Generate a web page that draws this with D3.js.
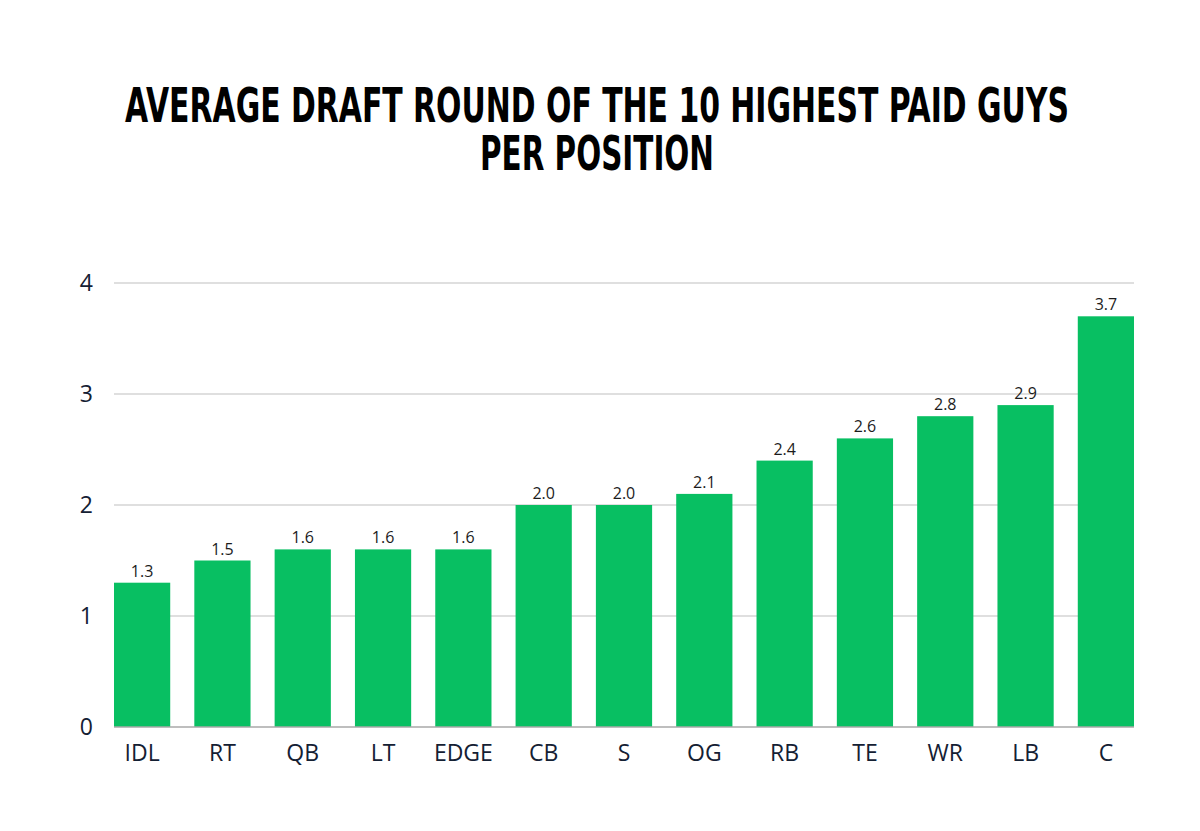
<!DOCTYPE html>
<html>
<head>
<meta charset="utf-8">
<script src="https://cdn.jsdelivr.net/npm/d3@7"></script>
<style>
  html, body { margin: 0; padding: 0; background: #fff; }
  #chart { width: 1200px; height: 831px; }
</style>
</head>
<body>
<div id="chart"></div>
<script>
// Average draft round of the 10 highest paid players per position
const positions = ['IDL', 'RT', 'QB', 'LT', 'EDGE', 'CB', 'S', 'OG', 'RB', 'TE', 'WR', 'LB', 'C'];
const avgRound = [1.3, 1.5, 1.6, 1.6, 1.6, 2.0, 2.0, 2.1, 2.4, 2.6, 2.8, 2.9, 3.7];
const yTicks = [0, 1, 2, 3, 4];
const titleLines = ['AVERAGE DRAFT ROUND OF THE 10 HIGHEST PAID GUYS', 'PER POSITION'];

(function () {
  const w = 1200, h = 831;
  const margin = { top: 283, right: 66, bottom: 104, left: 114 };

  const palette = {
    bar: '#08bf62',
    grid: '#d4d4d4',
    base: '#a9a9a9',
    tick: '#142033',
    value: '#1c1c1c',
    title: '#000'
  };

  const data = positions.map((p, i) => ({ pos: p, v: avgRound[i] }));

  const svg = d3.select('#chart')
    .append('svg')
    .attr('width', w)
    .attr('height', h);

  // Title: sized so each line matches its width, then stretched vertically
  // to get the tall condensed look of the original poster font.
  const titleWidths = [944, 234];
  const capHeight = 35;
  const title = svg.append('g');
  titleLines.forEach((line, i) => {
    const t = title.append('text')
      .attr('text-anchor', 'middle')
      .attr('font-family', '"DejaVu Sans Condensed", "DejaVu Sans", sans-serif')
      .attr('font-weight', 700)
      .attr('font-size', 40)
      .attr('fill', palette.title)
      .text(line);
    const natural = t.node().getComputedTextLength();
    const fs = 40 * titleWidths[i] / natural;
    const sy = capHeight / (fs * 0.73);
    t.attr('font-size', fs)
      .attr('transform', `translate(597,${122 + i * 48}) scale(1,${sy})`);
  });

  const x = d3.scaleBand()
    .domain(positions)
    .range([margin.left, w - margin.right])
    .paddingInner(0.3)
    .paddingOuter(0);

  const y = d3.scaleLinear()
    .domain([0, 4])
    .range([h - margin.bottom, margin.top]);

  // Gridlines
  svg.append('g')
    .selectAll('line')
    .data(yTicks.filter(t => t > 0))
    .enter()
    .append('line')
    .attr('x1', margin.left)
    .attr('x2', w - margin.right)
    .attr('y1', d => y(d))
    .attr('y2', d => y(d))
    .attr('stroke', palette.grid)
    .attr('stroke-width', 1.5);

  // Y axis labels
  svg.append('g')
    .attr('transform', `translate(${margin.left},0)`)
    .call(d3.axisLeft(y).tickValues(yTicks).tickSize(0).tickPadding(21).tickFormat(d3.format('d')))
    .call(g => g.select('.domain').remove())
    .call(g => g.selectAll('text')
      .attr('fill', palette.tick)
      .attr('font-family', '"Open Sans", sans-serif')
      .attr('font-size', 23));

  // Bars
  svg.append('g')
    .selectAll('rect')
    .data(data)
    .enter()
    .append('rect')
    .attr('x', d => x(d.pos))
    .attr('y', d => y(d.v))
    .attr('width', x.bandwidth())
    .attr('height', d => y(0) - y(d.v))
    .attr('fill', palette.bar);

  // Baseline
  svg.append('line')
    .attr('x1', margin.left)
    .attr('x2', w - margin.right)
    .attr('y1', y(0))
    .attr('y2', y(0))
    .attr('stroke', palette.base)
    .attr('stroke-width', 1.5);

  // X axis labels
  svg.append('g')
    .attr('transform', `translate(0,${y(0)})`)
    .call(d3.axisBottom(x).tickSize(0).tickPadding(18))
    .call(g => g.select('.domain').remove())
    .call(g => g.selectAll('text')
      .attr('fill', palette.tick)
      .attr('font-family', '"Open Sans", sans-serif')
      .attr('font-size', 23));

  // Value labels
  svg.append('g')
    .selectAll('text')
    .data(data)
    .enter()
    .append('text')
    .attr('x', d => x(d.pos) + x.bandwidth() / 2)
    .attr('y', d => y(d.v) - 6)
    .attr('text-anchor', 'middle')
    .attr('fill', palette.value)
    .attr('font-family', '"Open Sans", sans-serif')
    .attr('font-size', 16)
    .text(d => d3.format('.1f')(d.v));
})();
</script>
</body>
</html>
